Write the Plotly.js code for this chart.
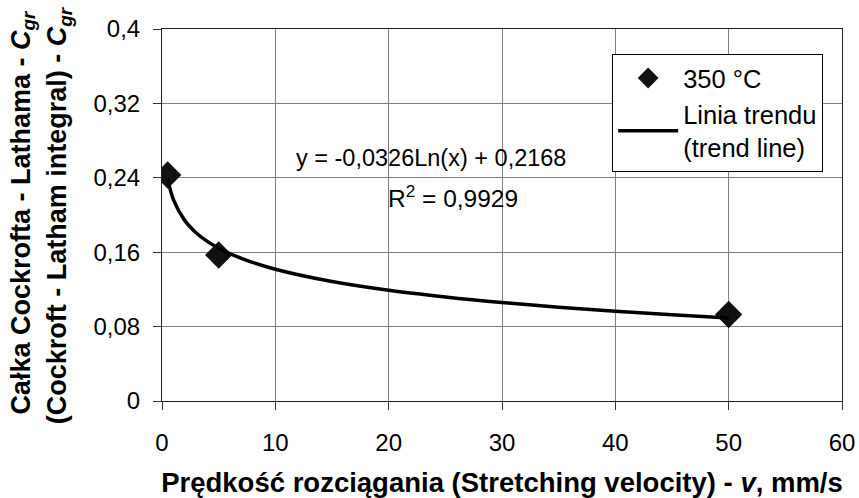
<!DOCTYPE html>
<html>
<head>
<meta charset="utf-8">
<script src="https://cdn.plot.ly/plotly-3.0.1.min.js"></script>
<style>html,body{margin:0;padding:0;background:#fff;}#chart{width:859px;height:498px;}</style>
</head>
<body>
<div id="chart"></div>
<script>
// Measured points (350 °C)
var velocity = [0.5, 5, 50];
var cgr = [0.243, 0.157, 0.093];
// Trend line (y = -0,0326Ln(x) + 0,2168)
var trendX = [0.5, 1, 2, 3, 4, 5, 7, 10, 15, 20, 25, 30, 35, 40, 45, 50];
var trendY = [0.2394, 0.2168, 0.1942, 0.1810, 0.1716, 0.1643, 0.1534, 0.1417, 0.1285, 0.1191, 0.1119, 0.1059, 0.1009, 0.0965, 0.0927, 0.0893];
var xTicks = [0, 10, 20, 30, 40, 50, 60];
var yTicks = [0, 0.08, 0.16, 0.24, 0.32, 0.4];
var seriesName = "350 °C";
var trendName = "Linia trendu<br>(trend line)";
var eqText = "y = -0,0326Ln(x) + 0,2168";
var r2Text = "R<sup>2</sup> = 0,9929";

var FONT = "Liberation Sans, Arial, sans-serif";

var traces = [
  {x: velocity, y: cgr, mode: "markers", name: seriesName, marker: {symbol: "diamond", size: 21, color: "#111"}},
  {x: trendX, y: trendY, mode: "lines", name: trendName, line: {color: "#000", width: 3.5, shape: "spline"}}
];

var layout = {
  width: 859, height: 498,
  margin: {l: 162, r: 17, t: 29, b: 97},
  paper_bgcolor: "#fff", plot_bgcolor: "#fff",
  separators: ", ",
  font: {family: FONT, size: 24, color: "#000"},
  showlegend: true,
  legend: {x: 0.662, y: 0.933, xanchor: "left", yanchor: "top", bgcolor: "#fff", bordercolor: "#000", borderwidth: 1,
           font: {family: FONT, size: 25.5, color: "#000"}, traceorder: "normal", itemwidth: 60},
  xaxis: {
    range: [0, 60], tickvals: xTicks, ticks: "outside", ticklen: 8, tickcolor: "#333",
    showgrid: true, gridcolor: "#808080", gridwidth: 1, zeroline: false,
    showline: true, linecolor: "#222", linewidth: 1, mirror: true,
    ticklabelstandoff: 12,
    tickfont: {family: FONT, size: 24, color: "#000"},
    title: {text: "<b>Prędkość rozciągania (Stretching velocity) - <i>v</i>, mm/s</b>", font: {family: FONT, size: 27.5, color: "#000"}, standoff: 17}
  },
  yaxis: {
    range: [0, 0.4], tickvals: yTicks, ticks: "outside", ticklen: 8, tickcolor: "#333",
    showgrid: true, gridcolor: "#808080", gridwidth: 1, zeroline: false,
    showline: true, linecolor: "#222", linewidth: 1, mirror: true,
    ticklabelstandoff: 8,
    tickfont: {family: FONT, size: 24, color: "#000"}
  },
  annotations: [
    {text: eqText, x: 23.7, y: 0.2613, xref: "x", yref: "y", showarrow: false, xanchor: "center", yanchor: "middle", font: {family: FONT, size: 23.5, color: "#000"}},
    {text: r2Text, x: 25.7, y: 0.2194, xref: "x", yref: "y", showarrow: false, xanchor: "center", yanchor: "middle", font: {family: FONT, size: 24.5, color: "#000"}},
    {text: "<b>Całka Cockrofta - Lathama - <i>C<sub>gr</sub></i></b>", x: -0.205, y: 0.508, xref: "paper", yref: "paper", showarrow: false, textangle: -90, xanchor: "center", yanchor: "middle", font: {family: FONT, size: 27, color: "#000"}},
    {text: "<b>(Cockroft - Latham integral) - <i>C<sub>gr</sub></i></b>", x: -0.151, y: 0.5, xref: "paper", yref: "paper", showarrow: false, textangle: -90, xanchor: "center", yanchor: "middle", font: {family: FONT, size: 27, color: "#000"}}
  ]
};

Plotly.newPlot("chart", traces, layout, {staticPlot: true, displayModeBar: false});
</script>
</body>
</html>
